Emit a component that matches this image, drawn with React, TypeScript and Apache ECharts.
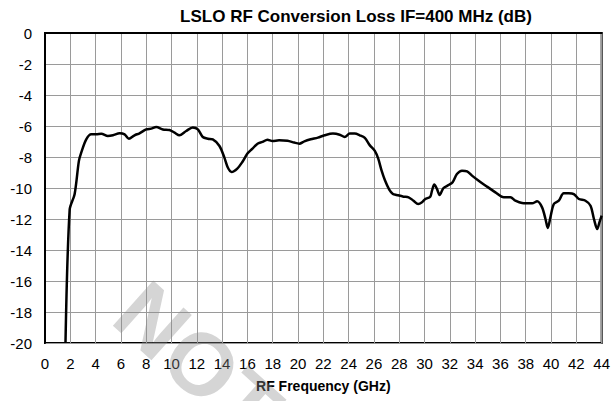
import React, { useEffect, useRef } from "react";
import * as echarts from "echarts";

const titleText = "LSLO RF Conversion Loss IF=400 MHz (dB)";
const xAxisName = "RF Frequency (GHz)";

const freqGHz = [
  1.62, 1.95, 2.34, 2.68, 2.87, 3.26, 3.66, 4.05, 4.45, 4.97, 5.37, 5.9, 6.29, 6.63, 7.08, 7.47,
  8.0, 8.4, 8.79, 9.32, 9.84, 10.24, 10.63, 11.16, 11.68, 12.08, 12.47, 12.87, 13.26, 13.79,
  14.18, 14.45, 14.75, 15.2, 15.6, 16.0, 16.4, 16.8, 17.19, 17.58, 17.98, 18.5, 19.17, 19.7,
  20.1, 20.5, 21.0, 21.57, 22.1, 22.76, 23.29, 23.69, 24.09, 24.48, 24.88, 25.28, 25.68, 26.07,
  26.34, 26.6, 26.87, 27.21, 27.5, 27.8, 28.34, 28.74, 29.13, 29.5, 29.8, 30.06, 30.45, 30.59,
  30.77, 30.98, 31.19, 31.5, 31.9, 32.22, 32.56, 32.96, 33.36, 33.75, 34.28, 34.94, 35.6,
  36.26, 36.79, 37.18, 37.71, 38.5, 38.9, 39.29, 39.56, 39.74, 39.95, 40.22, 40.61, 41.0,
  41.4, 41.8, 42.2, 42.72, 43.12, 43.39, 43.65, 43.83, 44.0,
];

const lossDb = [
  -20, -11.4, -10.4, -8.25, -7.7, -6.86, -6.54, -6.54, -6.5, -6.65, -6.6, -6.47, -6.54, -6.82, -6.6, -6.47,
  -6.22, -6.17, -6.07, -6.22, -6.26, -6.43, -6.6, -6.32, -6.1, -6.22, -6.71, -6.82, -6.86, -7.29,
  -8.04, -8.68, -8.97, -8.75, -8.32, -7.78, -7.46, -7.14, -7.03, -6.88, -6.97, -6.92, -6.95, -7.07,
  -7.14, -6.99, -6.86, -6.75, -6.6, -6.49, -6.56, -6.71, -6.49, -6.49, -6.6, -6.77, -7.25, -7.61,
  -8.11, -8.86, -9.5, -10.1, -10.38, -10.45, -10.56, -10.6, -10.82, -11.04, -10.92, -10.71, -10.56, -10.17,
  -9.78, -10.06, -10.45, -10.0, -9.81, -9.63, -9.1, -8.88, -8.92, -9.2, -9.53, -9.91, -10.28,
  -10.6, -10.6, -10.82, -10.97, -10.99, -10.86, -11.25, -12.0, -12.58, -11.89, -11.03, -10.82, -10.34,
  -10.34, -10.39, -10.71, -10.82, -11.14, -12.0, -12.65, -12.2, -11.78,
];

const xMin = 0;
const xMax = 44;
const xStep = 2;
const yMin = -20;
const yMax = 0;
const yStep = 2;

const watermark = "NOT";

export default function App() {
  const ref = useRef<HTMLDivElement>(null);

  useEffect(() => {
    if (!ref.current) return;
    const chart = echarts.init(ref.current, undefined, { renderer: "svg" });
    const font = "'Liberation Sans', Arial, Helvetica, sans-serif";
    const data = freqGHz.map((f, i) => [f, lossDb[i]]);
    chart.setOption({
      animation: false,
      backgroundColor: "#ffffff",
      textStyle: { fontFamily: font },
      title: {
        text: titleText,
        left: 351,
        textAlign: "center",
        top: 3,
        textStyle: { fontFamily: font, fontSize: 17, fontWeight: "bold", color: "#000" },
      },
      graphic: {
        elements: [
          {
            type: "text",
            x: 198,
            y: 361,
            rotation: -0.73,
            z: 1,
            silent: true,
            style: {
              text: watermark,
              fontFamily: font,
              fontWeight: "bold",
              fontSize: 88,
              fill: "rgba(140,140,140,0.37)",
              align: "center",
              verticalAlign: "middle",
            },
          },
        ],
      },
      grid: {
        left: 45,
        right: 10,
        top: 33,
        bottom: 58,
        show: true,
        borderColor: "#000",
        borderWidth: 2,
        backgroundColor: "transparent",
      },
      xAxis: {
        type: "value",
        min: xMin,
        max: xMax,
        interval: xStep,
        name: xAxisName,
        nameLocation: "middle",
        nameGap: 36,
        nameTextStyle: { fontFamily: font, fontSize: 14, fontWeight: "bold", color: "#000" },
        axisLine: { show: true, lineStyle: { color: "#000", width: 2 } },
        axisTick: { show: false },
        axisLabel: { color: "#000", fontSize: 15, fontFamily: font, margin: 13 },
        splitLine: { show: true, lineStyle: { color: "#9a9a9a", width: 1 } },
      },
      yAxis: {
        type: "value",
        min: yMin,
        max: yMax,
        interval: yStep,
        axisLine: { show: true, lineStyle: { color: "#000", width: 2 } },
        axisTick: { show: false },
        axisLabel: { color: "#000", fontSize: 15, fontFamily: font, margin: 13 },
        splitLine: { show: true, lineStyle: { color: "#9a9a9a", width: 1 } },
      },
      series: [
        {
          type: "line",
          data,
          smooth: 0.3,
          showSymbol: false,
          symbol: "none",
          clip: true,
          z: 5,
          lineStyle: { color: "#000", width: 2.5 },
        },
      ],
    });
    return () => chart.dispose();
  }, []);

  return (
    <div
      ref={ref}
      style={{ position: "fixed", left: 0, top: 0, width: 613, height: 401 }}
    />
  );
}
